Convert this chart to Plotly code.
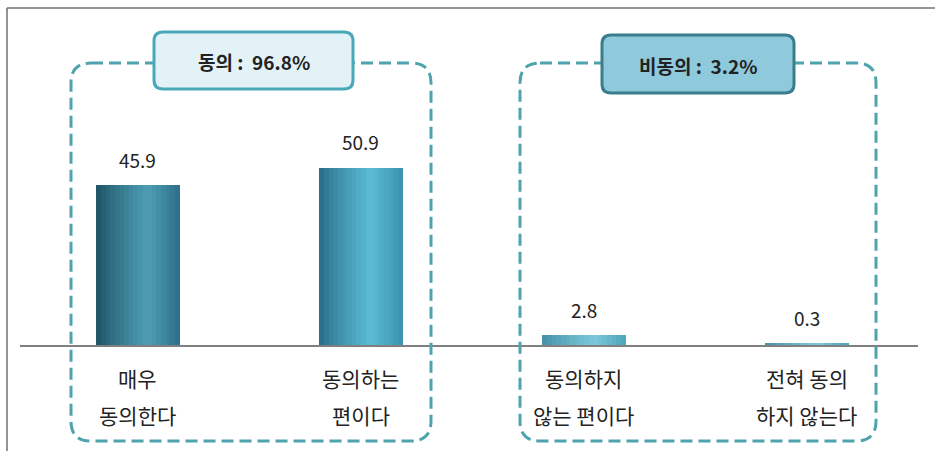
import plotly.graph_objects as go

# ---- data ----
categories = [0, 1, 2, 3]
values = [45.9, 50.9, 2.8, 0.3]
value_labels = ["45.9", "50.9", "2.8", "0.3"]
label_line1 = ["매우", "동의하는", "동의하지", "전혀 동의"]
label_line2 = ["동의한다", "편이다", "않는 편이다", "하지 않는다"]
group_titles = ["동의 :  96.8%", "비동의 :  3.2%"]

# ---- styling ----
FONT = "Noto Sans CJK KR"
W, H = 935, 451
L, R, T, B = 20, 918, 60, 345
bar_w = 0.372
N_STRIPS = 18

# per-bar gradient stops (left, highlight, right)
grad = [
    ("#1c4f61", "#4e9fb5", "#2c7088"),
    ("#266a83", "#5cbcd6", "#3b93ad"),
    ("#3f8ea5", "#7cc8da", "#4ea4bb"),
    ("#3f8ea5", "#7cc8da", "#4ea4bb"),
]


def hex2rgb(h):
    h = h.lstrip("#")
    return tuple(int(h[i:i + 2], 16) for i in (0, 2, 4))


def mix(a, b, t):
    a, b = hex2rgb(a), hex2rgb(b)
    return "rgb(%d,%d,%d)" % tuple(round(a[i] + (b[i] - a[i]) * t) for i in range(3))


def grad_color(stops, t):
    l, m, r = stops
    hp = 0.62
    if t <= hp:
        return mix(l, m, (t / hp) ** 0.8)
    return mix(m, r, (t - hp) / (1 - hp))


def px(xp):
    return (xp - L) / (R - L)


def py(yp):
    return (B - yp) / (B - T)


def rrect(x0, y0, x1, y1, r):
    pts = [
        f"M {px(x0 + r)} {py(y0)}",
        f"L {px(x1 - r)} {py(y0)}",
        f"Q {px(x1)} {py(y0)} {px(x1)} {py(y0 + r)}",
        f"L {px(x1)} {py(y1 - r)}",
        f"Q {px(x1)} {py(y1)} {px(x1 - r)} {py(y1)}",
        f"L {px(x0 + r)} {py(y1)}",
        f"Q {px(x0)} {py(y1)} {px(x0)} {py(y1 - r)}",
        f"L {px(x0)} {py(y0 + r)}",
        f"Q {px(x0)} {py(y0)} {px(x0 + r)} {py(y0)}",
        "Z",
    ]
    return " ".join(pts)


fig = go.Figure()

sw = bar_w / N_STRIPS
for k in range(N_STRIPS):
    t = (k + 0.5) / N_STRIPS
    fig.add_trace(go.Bar(
        x=categories, y=values,
        width=sw * 1.02, offset=-bar_w / 2 + k * sw,
        marker=dict(color=[grad_color(g, t) for g in grad], line=dict(width=0)),
        hoverinfo="skip", showlegend=False,
    ))

shapes = []
# outer border (top + left)
shapes.append(dict(type="line", xref="paper", yref="paper",
                   x0=px(7), y0=py(8), x1=px(940), y1=py(8),
                   line=dict(color="#707070", width=1.5)))
shapes.append(dict(type="line", xref="paper", yref="paper",
                   x0=px(7), y0=py(8), x1=px(7), y1=py(460),
                   line=dict(color="#707070", width=1.5)))
# dashed group boxes
for (x0, x1) in [(71, 431), (520, 876)]:
    shapes.append(dict(type="path", xref="paper", yref="paper",
                       path=rrect(x0, 63, x1, 441, 20),
                       line=dict(color="#4fa3ad", width=3, dash="12px,6px"),
                       layer="above"))
# title boxes
title_boxes = [
    (154, 32, 353, 89, "#e3f2f7", "#4aa9b8"),
    (602, 35, 794, 93, "#8fc9dc", "#3a7d8b"),
]
for (x0, y0, x1, y1, fill, line) in title_boxes:
    shapes.append(dict(type="path", xref="paper", yref="paper",
                       path=rrect(x0, y0, x1, y1, 9),
                       fillcolor=fill, line=dict(color=line, width=3),
                       layer="above"))

annotations = []
for (x0, y0, x1, y1, _, _), txt in zip(title_boxes, group_titles):
    annotations.append(dict(xref="paper", yref="paper",
                            x=px((x0 + x1) / 2), y=py((y0 + y1) / 2 + 1),
                            text=f"<b>{txt}</b>", showarrow=False,
                            font=dict(family=FONT, size=19, color="#222222"),
                            xanchor="center", yanchor="middle"))
for c, v, lab in zip(categories, values, value_labels):
    annotations.append(dict(x=c, y=v, xref="x", yref="y", text=lab,
                            showarrow=False, yshift=26,
                            font=dict(family=FONT, size=19, color="#222222"),
                            xanchor="center", yanchor="middle"))
for c, l1, l2 in zip(categories, label_line1, label_line2):
    annotations.append(dict(x=c, y=py(378), xref="x", yref="paper", text=l1,
                            showarrow=False,
                            font=dict(family=FONT, size=21, color="#222222"),
                            xanchor="center", yanchor="middle"))
    annotations.append(dict(x=c, y=py(415), xref="x", yref="paper", text=l2,
                            showarrow=False,
                            font=dict(family=FONT, size=21, color="#222222"),
                            xanchor="center", yanchor="middle"))

fig.update_layout(
    width=W, height=H,
    margin=dict(l=L, r=W - R, t=T, b=H - B),
    paper_bgcolor="white", plot_bgcolor="white",
    barmode="overlay", bargap=0,
    showlegend=False,
    xaxis=dict(range=[-0.529, 3.498], showgrid=False, zeroline=False,
               showticklabels=False, ticks="", showline=True,
               linecolor="#808080", linewidth=1.5, fixedrange=True),
    yaxis=dict(range=[0, 81.8], showgrid=False, zeroline=False,
               showticklabels=False, ticks="", showline=False, fixedrange=True),
    shapes=shapes, annotations=annotations,
)

fig.write_html("out.html",
               config={"displayModeBar": False},
               post_script="document.body.style.margin='0';document.body.style.overflow='hidden';")
